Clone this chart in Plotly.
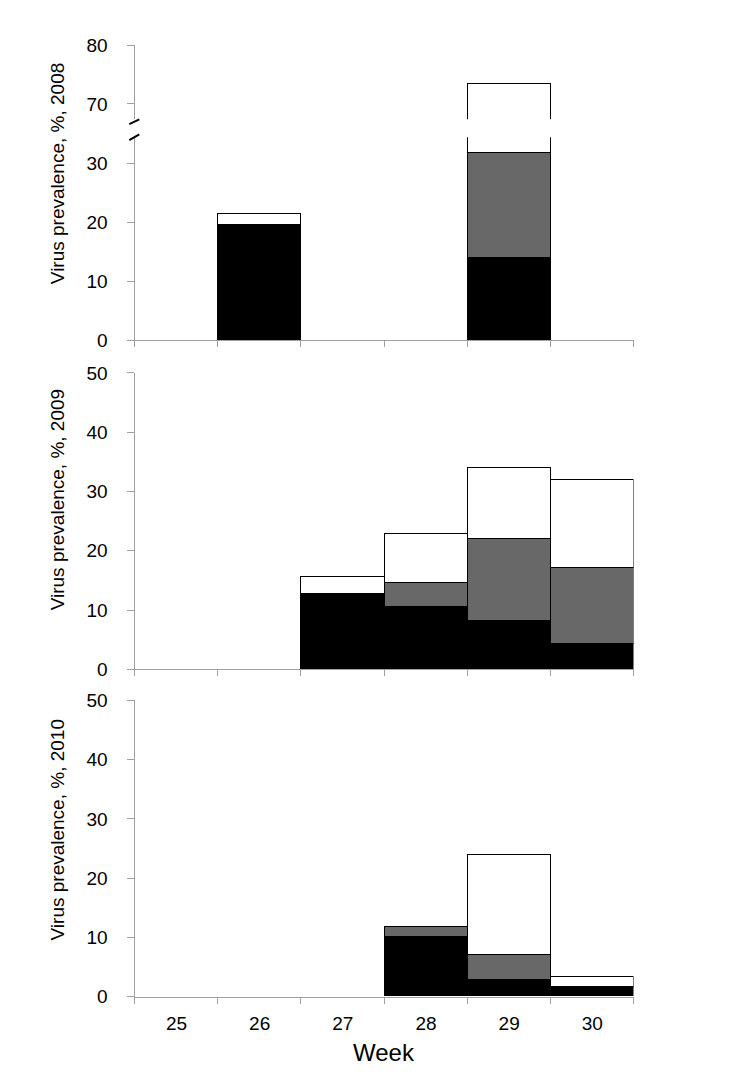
import plotly.graph_objects as go

weeks = [25, 26, 27, 28, 29, 30]
week_labels = ["25", "26", "27", "28", "29", "30"]

# segment heights (%), stacked bottom-to-top: black, gray, white
black_2008 = [None, 19.5, None, None, 13.9, None]
gray_2008 = [None, None, None, None, 17.8, None]
white_2008 = [None, 1.9, None, None, 41.6, None]

black_2009 = [None, None, 12.8, 10.5, 8.1, 4.3]
gray_2009 = [None, None, None, 4.1, 13.9, 12.8]
white_2009 = [None, None, 2.8, 8.3, 12.0, 14.9]

black_2010 = [None, None, None, 10.0, 2.8, 1.6]
gray_2010 = [None, None, None, 1.6, 4.1, None]
white_2010 = [None, None, None, None, 17.0, 1.6]

FONT = "Liberation Sans, Arial, Helvetica, sans-serif"
AX = "#a0a0a0"
fills = ["#000000", "#686868", "#ffffff"]
W, H = 750, 1075

def Y(px):
    # vertical page pixel -> figure pixel (compensates for capture offset/scale)
    return (px - 9.9) / 0.98

fig = go.Figure()

def add_stack(series, xa, ya):
    for vals, col in zip(series, fills):
        fig.add_trace(go.Bar(
            x=weeks, y=vals, width=1, marker=dict(color=col, line=dict(color="#000000", width=1)),
            xaxis=xa, yaxis=ya, showlegend=False, hoverinfo="skip"))

add_stack([black_2008, gray_2008, white_2008], "x", "y")
add_stack([black_2008, gray_2008, white_2008], "x2", "y2")
add_stack([black_2009, gray_2009, white_2009], "x3", "y3")
add_stack([black_2010, gray_2010, white_2010], "x4", "y4")

xdom = [134.5 / W, 633.5 / W]
def pdom(top_px, bot_px):
    return [1 - Y(bot_px) / H, 1 - Y(top_px) / H]

bounds = [w - 0.5 for w in weeks] + [weeks[-1] + 0.5]

xbase = dict(domain=xdom, range=[bounds[0], bounds[-1]], showline=True, linecolor=AX, linewidth=1,
             ticks="outside", tickcolor=AX, ticklen=6, tickwidth=1, tickmode="array",
             tickvals=bounds, ticktext=[""] * len(bounds), showgrid=False, zeroline=False,
             fixedrange=True)
ybase = dict(showline=True, linecolor=AX, linewidth=1, ticks="outside", tickcolor=AX, ticklen=7,
             tickwidth=1, showgrid=False, zeroline=False, tickfont=dict(size=19, color="#000", family=FONT),
             ticklabelstandoff=15, fixedrange=True)

fig.update_layout(
    width=W, height=H, margin=dict(l=0, r=0, t=0, b=0),
    paper_bgcolor="white", plot_bgcolor="white", barmode="stack", bargap=0,
    font=dict(family=FONT, color="#000"),
    xaxis=dict(xbase, anchor="y"),
    yaxis=dict(ybase, domain=pdom(137, 340), range=[0, 34.4], tickvals=[0, 10, 20, 30], anchor="x"),
    xaxis2=dict(xbase, anchor="y2", showline=False, ticks="", showticklabels=False),
    yaxis2=dict(ybase, domain=pdom(45, 119), range=[67.4, 80], tickvals=[70, 80], anchor="x2"),
    xaxis3=dict(xbase, anchor="y3"),
    yaxis3=dict(ybase, domain=pdom(372.7, 669), range=[0, 50], tickvals=[0, 10, 20, 30, 40, 50], anchor="x3"),
    xaxis4=dict(xbase, anchor="y4", tickvals=bounds, ticktext=week_labels + [""],
                ticklabelshift=42, ticklabelstandoff=4, tickfont=dict(size=19, color="#000", family=FONT)),
    yaxis4=dict(ybase, domain=pdom(700, 996), range=[0, 50], tickvals=[0, 10, 20, 30, 40, 50], anchor="x4"),
)

# break marks on the 2008 axis
for y0, y1 in [(124, 119.3), (140, 134.3)]:
    fig.add_shape(type="line", xref="paper", yref="paper",
                  x0=129.3 / W, x1=139.3 / W, y0=1 - Y(y0) / H, y1=1 - Y(y1) / H,
                  line=dict(color="#000", width=2))

for txt, yc in [("Virus prevalence, %, 2008", 174), ("Virus prevalence, %, 2009", 500),
                ("Virus prevalence, %, 2010", 830)]:
    fig.add_annotation(text=txt, xref="paper", yref="paper", x=57 / W, y=1 - Y(yc) / H,
                       textangle=-90, showarrow=False, font=dict(size=19, family=FONT, color="#000"),
                       xanchor="center", yanchor="middle")

fig.add_annotation(text="Week", xref="paper", yref="paper", x=383.5 / W, y=1 - Y(1052) / H,
                   showarrow=False, font=dict(size=24, family=FONT, color="#000"),
                   xanchor="center", yanchor="middle")

fig.write_html("out.html", config={"displayModeBar": False},
               post_script="document.body.style.margin='0px';document.body.style.overflow='hidden';")
